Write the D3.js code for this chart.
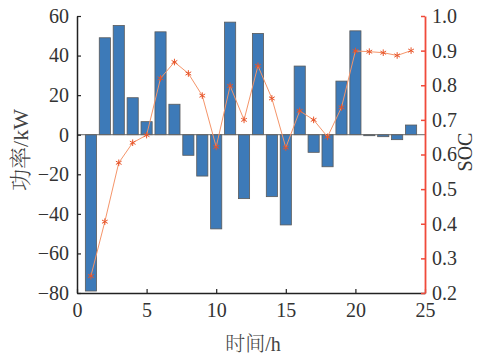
<!DOCTYPE html>
<html><head><meta charset="utf-8">
<script src="https://cdn.jsdelivr.net/npm/d3@7"></script>
<style>body{margin:0;background:#fff}svg{display:block}</style>
</head><body>
<svg id="c" width="484" height="356"></svg>
<script>
const hours = [1,2,3,4,5,6,7,8,9,10,11,12,13,14,15,16,17,18,19,20,21,22,23,24];
const power = [-79,49,55.2,18.7,6.6,52,15.4,-10.4,-20.9,-47.6,56.9,-32.3,51.2,-31.3,-45.6,34.7,-8.9,-16.2,27.1,52.5,-0.5,-1,-2.5,4.9];
const soc = [0.249,0.406,0.576,0.634,0.656,0.82,0.867,0.834,0.77,0.622,0.798,0.70,0.856,0.762,0.62,0.726,0.70,0.651,0.736,0.899,0.897,0.894,0.886,0.90];
const xTicks = [0,5,10,15,20,25];
const yTicks = [-80,-60,-40,-20,0,20,40,60];
const socTicks = [0.2,0.3,0.4,0.5,0.6,0.7,0.8,0.9,1.0];

const svg = d3.select("#c");
const L=77, R=425, T=16, B=293;
const x = d3.scaleLinear().domain([0,25]).range([L,R]);
const y = d3.scaleLinear().domain([-80,60]).range([B,T]);
const y2 = d3.scaleLinear().domain([0.2,1.0]).range([B,T]);
const font = "'Liberation Serif','Times New Roman',serif";
const cjk = "'Liberation Serif','Noto Serif CJK SC','Noto Sans CJK SC',serif";

// bars
const bw = (x(1)-x(0))*0.8;
svg.append("g").selectAll("rect").data(hours).join("rect")
  .attr("x", (d,i)=>x(d)-bw/2)
  .attr("y", (d,i)=>y(Math.max(0,power[i])))
  .attr("width", bw)
  .attr("height", (d,i)=>Math.abs(y(power[i])-y(0)))
  .attr("fill","#3d7ab8").attr("stroke","#5a5a5a").attr("stroke-width",0.8);

// baseline
svg.append("line").attr("x1",L).attr("x2",R).attr("y1",y(0)).attr("y2",y(0))
  .attr("stroke","#666").attr("stroke-width",1);

// SOC line
const line = d3.line().x((d,i)=>x(hours[i])).y(d=>y2(d));
svg.append("path").datum(soc).attr("d",line).attr("fill","none")
  .attr("stroke","#f5956a").attr("stroke-width",1);
const sym = d3.symbol().type(d3.symbolAsterisk).size(30);
svg.append("g").selectAll("path").data(soc).join("path")
  .attr("transform",(d,i)=>`translate(${x(hours[i])},${y2(d)})`)
  .attr("d",sym).attr("fill","none").attr("stroke","#e8552a").attr("stroke-width",1);

// left axis
const gl = svg.append("g").attr("transform",`translate(${L},0)`)
  .call(d3.axisLeft(y).tickValues(yTicks).tickSizeInner(-4).tickSizeOuter(0).tickPadding(8).tickFormat(d=>d<0?"\u2212"+Math.abs(d):d));
gl.select(".domain").attr("stroke","#222").attr("stroke-width",1.5);
gl.selectAll(".tick line").attr("stroke","#222").attr("stroke-width",1.2);
gl.selectAll("text").attr("font-family",font).attr("font-size",20).attr("fill","#333");

// bottom axis
const gb = svg.append("g").attr("transform",`translate(0,${B})`)
  .call(d3.axisBottom(x).tickValues(xTicks).tickSizeInner(-4).tickSizeOuter(0).tickPadding(10));
gb.select(".domain").attr("stroke","#222").attr("stroke-width",1.5);
gb.selectAll(".tick line").attr("stroke","#222").attr("stroke-width",1.2);
gb.selectAll("text").attr("font-family",font).attr("font-size",20).attr("fill","#333");

// right axis
const gr = svg.append("g").attr("transform",`translate(${R},0)`)
  .call(d3.axisRight(y2).tickValues(socTicks).tickSizeInner(-4).tickSizeOuter(0).tickPadding(7).tickFormat(d3.format(".1f")));
gr.select(".domain").attr("stroke","#f04a3a").attr("stroke-width",1.8);
gr.selectAll(".tick line").attr("stroke","#f04a3a").attr("stroke-width",1.5);
gr.selectAll("text").attr("font-family",font).attr("font-size",20).attr("fill","#333");

// labels
svg.append("text").attr("x",253).attr("y",351).attr("text-anchor","middle")
  .attr("font-family",cjk).attr("font-size",20).attr("font-weight",300).attr("fill","#444").text("时间/h");
svg.append("text").attr("transform","translate(28,150) rotate(-90)").attr("text-anchor","middle")
  .attr("font-family",cjk).attr("font-size",22).attr("font-weight",300).attr("fill","#444").text("功率/kW");
svg.append("text").attr("transform","translate(472,152) rotate(-90)").attr("text-anchor","middle")
  .attr("font-family",font).attr("font-size",20).attr("fill","#333").text("SOC");
</script>
</body></html>
